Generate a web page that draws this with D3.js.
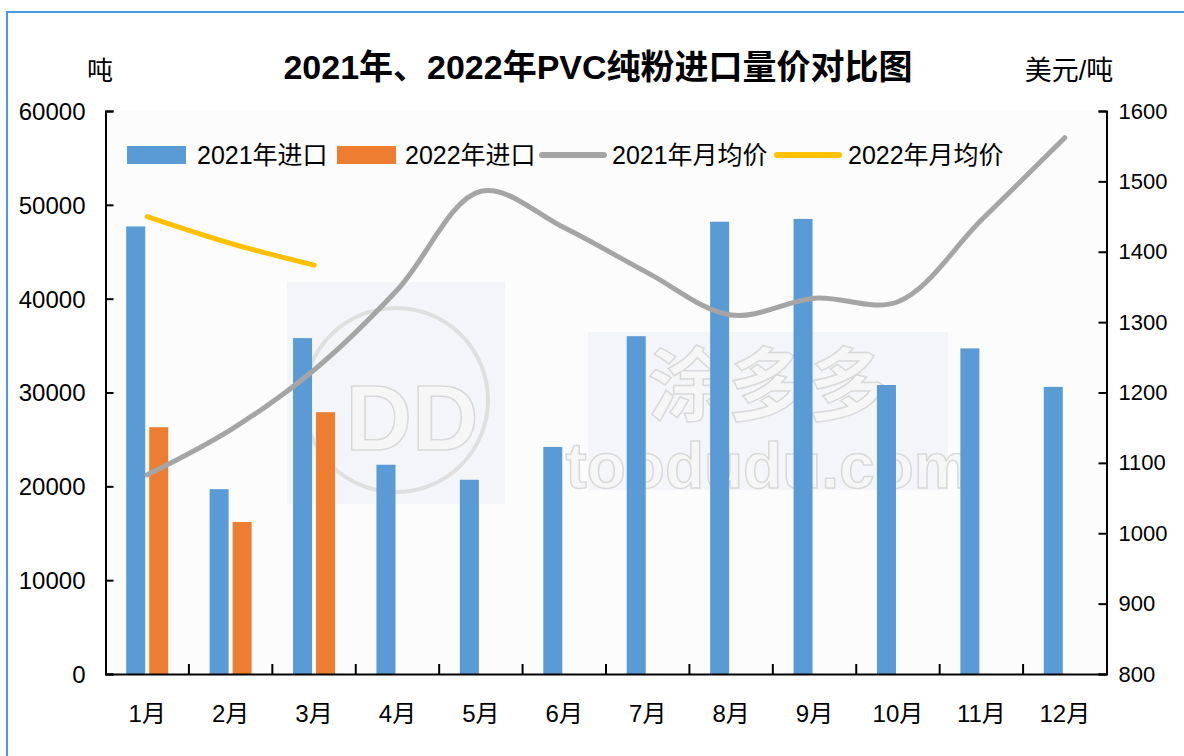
<!DOCTYPE html>
<html><head><meta charset="utf-8">
<script src="https://cdn.jsdelivr.net/npm/d3@7"></script>
<style>
html,body{margin:0;padding:0;background:#fff;}
svg{display:block;}
text{font-family:"Liberation Sans","Noto Sans CJK SC",sans-serif;}
</style></head>
<body>
<svg id="chart" width="1184" height="756"></svg>
<script>
const months = ["1月","2月","3月","4月","5月","6月","7月","8月","9月","10月","11月","12月"];
const import2021 = [47700,19700,35800,22300,20700,24200,36000,48200,48500,30800,34700,30600];
const import2022 = [26300,16200,27900];
const price2021 = [1083,1147,1232,1346,1486,1434,1370,1310,1334,1329,1445,1562];
const price2022 = [1450,1412,1381];
const leftTicks = [0,10000,20000,30000,40000,50000,60000];
const rightTicks = [800,900,1000,1100,1200,1300,1400,1500,1600];
const seriesNames = ["2021年进口","2022年进口","2021年月均价","2022年月均价"];
const titleText = "2021年、2022年PVC纯粉进口量价对比图";
const leftUnit = "吨";
const rightUnit = "美元/吨";

const colors = {b21:"#5B9BD5", b22:"#ED7D31", l21:"#A5A5A5", l22:"#FFC000"};

const svg = d3.select("#chart");
const L = 105.5, R = 1106.5, T = 111, B = 674;

// frame
svg.append("rect").attr("x",7).attr("y",12).attr("width",1200).attr("height",800)
  .attr("fill","#fff").attr("stroke","#4A98E6").attr("stroke-width",2);

// plot background
svg.append("rect").attr("x",L).attr("y",T).attr("width",R-L).attr("height",B-T).attr("fill","#FCFCFC");

// watermark (faint)
const wm = svg.append("g").attr("opacity",0.55);
wm.append("rect").attr("x",287).attr("y",282).attr("width",218).attr("height",222).attr("fill","#EEF0F5");
wm.append("rect").attr("x",588).attr("y",332).attr("width",360).attr("height",158).attr("fill","#EEF0F5");
wm.append("text").attr("x",768).attr("y",414).attr("text-anchor","middle").attr("font-size",80).attr("font-weight","bold")
  .attr("fill","#F2F2F2").attr("stroke","#BDBDBD").attr("stroke-width",1.5).text("涂多多");
wm.append("text").attr("x",768).attr("y",488).attr("text-anchor","middle").attr("font-size",64).attr("font-weight","bold")
  .attr("fill","#F2F2F2").attr("stroke","#BDBDBD").attr("stroke-width",1.5).text("toodudu.com");
wm.append("circle").attr("cx",396).attr("cy",400).attr("r",92).attr("fill","none").attr("stroke","#C8C8C8").attr("stroke-width",4);
wm.append("text").attr("x",412).attr("y",450).attr("text-anchor","middle").attr("font-size",92).attr("font-weight","bold")
  .attr("fill","#F2F2F2").attr("stroke","#BDBDBD").attr("stroke-width",1.5).text("DD");

const x = d3.scaleBand().domain(months).range([L,R]).paddingInner(0).paddingOuter(0);
const yL = d3.scaleLinear().domain([0,60000]).range([B,T]);
const yR = d3.scaleLinear().domain([800,1600]).range([B,T]);
const cx = m => x(m) + x.bandwidth()/2;
const bw = 19;

// bars
svg.append("g").selectAll("rect").data(import2021).join("rect")
  .attr("x",(d,i)=>cx(months[i])-bw-2).attr("width",bw)
  .attr("y",d=>yL(d)).attr("height",d=>B-yL(d)).attr("fill",colors.b21);
svg.append("g").selectAll("rect").data(import2022).join("rect")
  .attr("x",(d,i)=>cx(months[i])+2).attr("width",bw)
  .attr("y",d=>yL(d)).attr("height",d=>B-yL(d)).attr("fill",colors.b22);

// lines
const line = d3.line().curve(d3.curveCatmullRom.alpha(0.5));
svg.append("path").attr("d",line(price2021.map((p,i)=>[cx(months[i]),yR(p)])))
  .attr("fill","none").attr("stroke",colors.l21).attr("stroke-width",5).attr("stroke-linecap","round");
svg.append("path").attr("d",line(price2022.map((p,i)=>[cx(months[i]),yR(p)])))
  .attr("fill","none").attr("stroke",colors.l22).attr("stroke-width",5).attr("stroke-linecap","round");

// axes
const axL = svg.append("g").attr("transform",`translate(${L},0)`)
  .call(d3.axisRight(yL).tickValues(leftTicks).tickSize(8).tickFormat(d3.format("d")));
axL.selectAll("text").attr("x",-20).attr("text-anchor","end");
const axR = svg.append("g").attr("transform",`translate(${R},0)`)
  .call(d3.axisLeft(yR).tickValues(rightTicks).tickSize(8).tickFormat(d3.format("d")));
axR.selectAll("text").attr("x",12).attr("text-anchor","start");
const axB = svg.append("g").attr("transform",`translate(0,${B})`)
  .call(d3.axisBottom(x).tickSize(0));
axB.selectAll("text").attr("dy","0").attr("y",48);
// category boundary ticks (pointing up)
svg.append("g").selectAll("line").data(months.slice(1)).join("line")
  .attr("x1",d=>x(d)).attr("x2",d=>x(d)).attr("y1",B).attr("y2",B-10)
  .attr("stroke","#000").attr("stroke-width",2);

[axL,axR,axB].forEach(a=>{
  a.select(".domain").attr("stroke","#000").attr("stroke-width",2);
  a.selectAll(".tick line").attr("stroke","#000").attr("stroke-width",2);
  a.selectAll("text").attr("fill","#000").attr("font-size",24)
   .attr("font-family",'"Liberation Sans","Noto Sans CJK SC",sans-serif');
});
axR.selectAll("text").attr("font-size",22);
axL.selectAll("text").attr("dy","0.35em");

// title & units
svg.append("text").attr("x",598).attr("y",79).attr("text-anchor","middle")
  .attr("font-size",34).attr("font-weight","bold").attr("fill","#000").text(titleText);
svg.append("text").attr("x",100).attr("y",80).attr("text-anchor","middle")
  .attr("font-size",26).attr("fill","#000").text(leftUnit);
svg.append("text").attr("x",1069).attr("y",80).attr("text-anchor","middle")
  .attr("font-size",27).attr("fill","#000").text(rightUnit);

// legend
const lg = svg.append("g").attr("font-size",25);
const items = [
  {type:"rect", c:colors.b21, x:127, tx:197},
  {type:"rect", c:colors.b22, x:337, tx:405},
  {type:"line", c:colors.l21, x:542, tx:612},
  {type:"line", c:colors.l22, x:777, tx:848}
];
items.forEach((it,i)=>{
  if(it.type==="rect") lg.append("rect").attr("x",it.x).attr("y",146).attr("width",59).attr("height",18).attr("fill",it.c);
  else lg.append("line").attr("x1",it.x).attr("x2",it.x+62).attr("y1",155).attr("y2",155)
        .attr("stroke",it.c).attr("stroke-width",6).attr("stroke-linecap","round");
  lg.append("text").attr("x",it.tx).attr("y",155).attr("dy","0.36em").attr("fill","#000").text(seriesNames[i]);
});
</script>
</body></html>
